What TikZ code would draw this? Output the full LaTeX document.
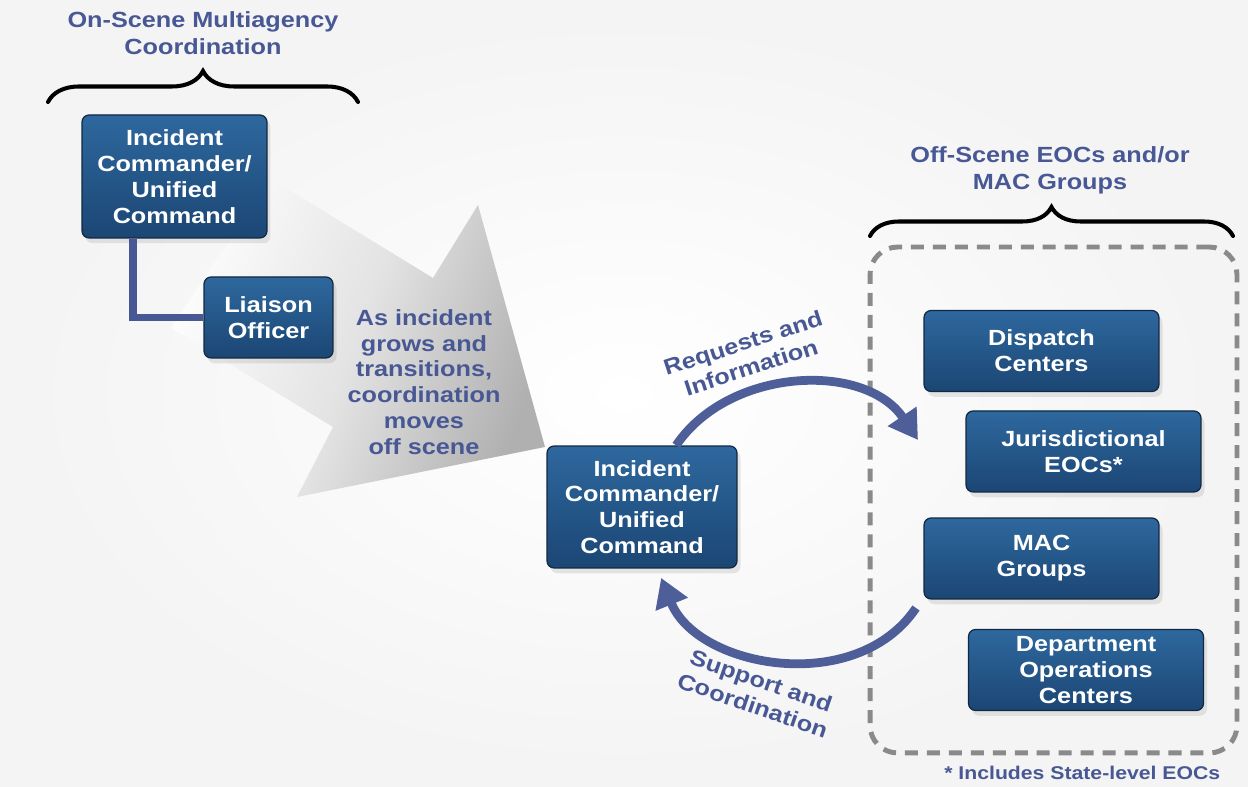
\documentclass[tikz,border=0pt]{standalone}
\usepackage{fontspec}
\setmainfont{Liberation Sans}[FakeStretch=1.15]
\usetikzlibrary{positioning}
\usetikzlibrary{arrows.meta}
\usetikzlibrary{shadows}
\usetikzlibrary{decorations.pathreplacing}

\definecolor{slate}{RGB}{72,88,148}
\definecolor{flowblue}{RGB}{78,94,152}
\definecolor{boxtop}{RGB}{46,104,158}
\definecolor{boxbot}{RGB}{27,70,116}
\definecolor{boxline}{RGB}{18,40,66}
\definecolor{dashgray}{RGB}{138,138,138}

\newcommand\unitfont{\fontsize{12.5}{14.7}\selectfont\bfseries}
\newcommand\headfont{\fontsize{12.5}{15.3}\selectfont\bfseries}

\begin{document}
\begin{tikzpicture}[
    x=0.02cm, y=0.02cm,
    unitbox/.style={rectangle, rounded corners=4pt, draw=boxline, line width=0.7pt,
      top color=boxtop, bottom color=boxbot, text=white, align=center,
      font=\unitfont, inner sep=0pt,
      drop shadow={shadow xshift=2pt, shadow yshift=-3pt, opacity=0.18}},
    wide/.style={minimum width=4.7cm, minimum height=1.62cm},
    heading/.style={text=slate, align=center, font=\headfont},
    flowtext/.style={text=slate, align=center, font=\unitfont},
    notetext/.style={text=slate, font=\fontsize{10.5}{12}\selectfont\bfseries},
    flow/.style={draw=flowblue, line width=5pt, -{Triangle[width=0.66cm,length=0.57cm]}},
    link/.style={draw=slate, line width=4.5pt},
    curly/.style={decorate, decoration={brace, amplitude=#1}, line width=2.3pt, line cap=round},
    groupframe/.style={draw=dashgray, line width=2.8pt, dash pattern=on 7.4pt off 5.1pt,
      rounded corners=0.55cm, minimum width=7.34cm, minimum height=10.12cm}
    ]
    \useasboundingbox (0,0) rectangle (1248,787);
    \shade[inner color=white, outer color=gray!9] (0,0) rectangle (1248,787);

    % big shaded arrow
    \shade[top color=gray!2, bottom color=gray!62, middle color=gray!22, shading angle=70]
      (171,459) -- (333,360) -- (297,290) -- (545,340) -- (478,582) -- (433,509) -- (271,608) -- cycle;
    \node (movenote) [flowtext] at (424,405) {As incident\\grows and\\transitions,\\coordination\\moves\\off scene};

    % on scene
    \node (onhead) [heading] at (203,754) {On-Scene Multiagency\\Coordination};
    \draw[curly=0.62cm] (48,685) -- (358,685);
    \node (ic1) [unitbox, minimum width=3.7cm, minimum height=2.46cm] at (174.5,610.5) {Incident\\Commander/\\Unified\\Command};
    \node (lia) [unitbox, minimum width=2.58cm, minimum height=1.62cm] at (268.5,469.5) {Liaison\\Officer};
    \draw[link] ([xshift=-0.83cm]ic1.south) |- (lia.west);

    % off scene
    \node (offhead) [heading] at (1050,617) {Off-Scene EOCs and/or\\MAC Groups};
    \draw[curly=0.58cm] (870,551) -- (1233,551);
    \node (frame) [groupframe] at (1053.5,287) {};
    \node (disp) [unitbox, wide] at (1041.5,436) {Dispatch\\Centers};
    \node (jur) [unitbox, wide] at (1083.5,335.5) {Jurisdictional\\EOCs*};
    \node (mac) [unitbox, wide] at (1041.5,228.5) {MAC\\Groups};
    \node (dept) [unitbox, wide] at (1086,117) {Department\\Operations\\Centers};
    \node (note) [notetext, below left=0.1cm and 0.26cm of frame.south east] {* Includes State-level EOCs};

    % flows
    \node (ic2) [unitbox, minimum width=3.8cm, minimum height=2.44cm] at (642,280) {Incident\\Commander/\\Unified\\Command};
    \coordinate (reqtip) at (918,347);
    \coordinate (suptail) at (916,179);
    \draw[flow] (ic2.61) to[out=56, in=124, looseness=1.0] (reqtip);
    \draw[flow, shorten >=0.2cm] (suptail) to[out=-124, in=-68, looseness=1.05] (ic2.-76);
    \node (reqlabel) [flowtext, rotate=18] at (747,432) {Requests and\\Information};
    \node (suplabel) [flowtext, rotate=-19] at (757,94) {Support and\\Coordination};
\end{tikzpicture}
\end{document}
